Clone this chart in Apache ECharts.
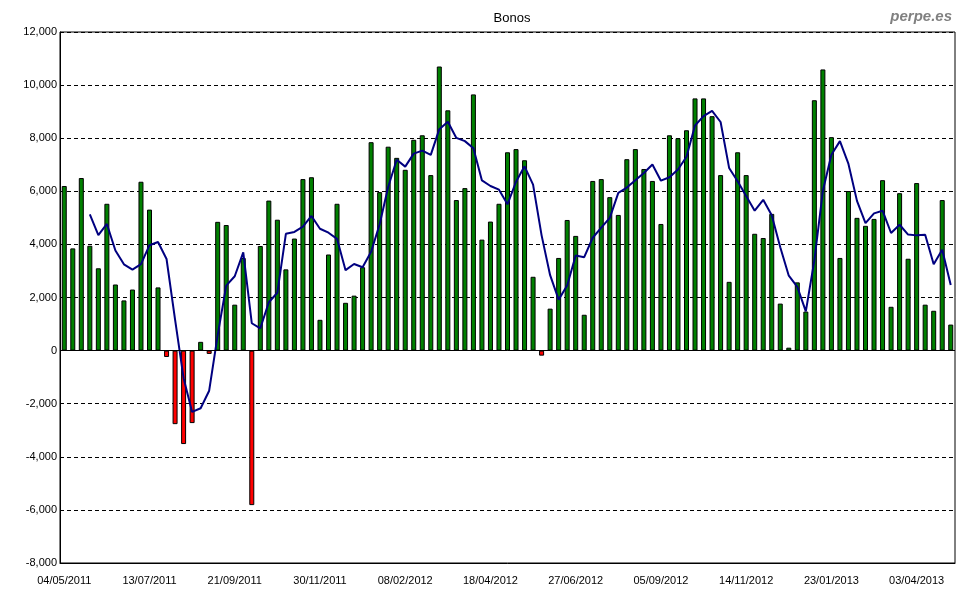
<!DOCTYPE html>
<html>
<head>
<meta charset="utf-8">
<script src="https://cdn.jsdelivr.net/npm/echarts@6/dist/echarts.min.js"></script>
<style>
html,body{margin:0;padding:0;background:#fff;}
#chart{width:980px;height:600px;}
</style>
</head>
<body>
<div id="chart"></div>
<script>
const startDate = '2011-05-04';
const weekCount = 105;

const bonos = [
  6200, 3850, 6500, 3950, 3100, 5530, 2490, 1890, 2300, 6360,
  5310, 2380, -240, -2770, -3520, -2730, 330, -125, 4850, 4730,
  1730, 3490, -5820, 3940, 5650, 4930, 3060, 4220, 6460, 6530,
  1160, 3620, 5530, 1800, 2070, 3140, 7850, 5970, 7680, 7260,
  6810, 7940, 8110, 6610, 10700, 9050, 5670, 6120, 9650, 4180,
  4860, 5530, 7470, 7590, 7170, 2780, -190, 1580, 3490, 4920,
  4320, 1350, 6390, 6460, 5780, 5110, 7210, 7590, 6840, 6390,
  4770, 8110, 8000, 8300, 9500, 9500, 8830, 6610, 2590, 7470,
  6610, 4400, 4240, 5150, 1770, 110, 2570, 1470, 9430, 10590,
  8040, 3490, 6010, 5000, 4700, 4960, 6420, 1650, 5930, 3460,
  6310, 1730, 1500, 5670, 980
];

const media = [
  null, null, null, 5130, 4350, 4770, 3770, 3250, 3050, 3260,
  3970, 4090, 3450, 1170, -1040, -2310, -2170, -1510, 580, 2450,
  2800, 3700, 1030, 840, 1820, 2180, 4400, 4470, 4670, 5070,
  4590, 4440, 4210, 3030, 3260, 3140, 3720, 4760, 6160, 7190,
  6930, 7420, 7530, 7370, 8340, 8620, 8010, 7890, 7620, 6410,
  6200, 6060, 5510, 6360, 6940, 6250, 4340, 2840, 1920, 2450,
  3580, 3520, 4250, 4630, 5000, 5940, 6140, 6420, 6690, 7010,
  6400, 6530, 6820, 7300, 8480, 8830, 9030, 8610, 6880, 6380,
  5820, 5270, 5680, 5100, 3890, 2820, 2400, 1480, 3400, 6020,
  7380, 7890, 7030, 5640, 4800, 5170, 5270, 4430, 4740, 4370,
  4340, 4360, 3250, 3800, 2470
];

const yTicks = { min: -8000, max: 12000, interval: 2000 };

function fmtDate(d){
  const dd = String(d.getUTCDate()).padStart(2,'0');
  const mm = String(d.getUTCMonth()+1).padStart(2,'0');
  return dd + '/' + mm + '/' + d.getUTCFullYear();
}
const categories = [];
{
  const base = new Date(startDate + 'T00:00:00Z');
  for (let i = 0; i < weekCount; i++) {
    categories.push(fmtDate(new Date(base.getTime() + i*7*86400000)));
  }
}

function fmtNum(v){
  const s = Math.abs(v).toString().replace(/\B(?=(\d{3})+(?!\d))/g, ',');
  return (v < 0 ? '-' : '') + s;
}

const chart = echarts.init(document.getElementById('chart'), null, {renderer:'canvas'});
const font = '"Liberation Sans", Arial, sans-serif';
chart.setOption({
  animation: false,
  backgroundColor: '#ffffff',
  title: [
    { text: 'Bonos', left: 507, top: 7, textAlign: 'center',
      textStyle: { fontFamily: font, fontSize: 13, fontWeight: 'normal', color: '#000' } },
    { text: 'perpe.es', right: 23, top: 4,
      textStyle: { fontFamily: font, fontSize: 15, fontWeight: 'bold', fontStyle: 'italic', color: '#808080' } }
  ],
  grid: { left: 60, right: 25, top: 32, bottom: 37, show: true, borderColor: '#000', borderWidth: 1, backgroundColor: 'transparent' },
  xAxis: {
    type: 'category',
    data: categories,
    boundaryGap: true,
    axisLine: { onZero: false, lineStyle: { color: '#000' } },
    axisTick: { show: false },
    axisLabel: { interval: 9, color: '#000', fontFamily: font, fontSize: 11, margin: 12 },
    splitLine: { show: false }
  },
  yAxis: {
    type: 'value',
    min: yTicks.min, max: yTicks.max, interval: yTicks.interval,
    axisLine: { show: true, lineStyle: { color: '#000' } },
    axisTick: { show: false },
    axisLabel: { color: '#000', fontFamily: font, fontSize: 11, margin: 3, formatter: fmtNum },
    splitLine: { show: true, lineStyle: { color: '#000', type: [4, 3], width: 1 } }
  },
  series: [
    {
      type: 'bar',
      data: bonos.map(v => ({ value: v, itemStyle: { color: v < 0 ? '#ff0000' : '#008000' } })),
      barWidth: 5,
      itemStyle: { borderColor: '#000', borderWidth: 1 },
      markLine: {
        silent: true, symbol: 'none', label: { show: false },
        lineStyle: { color: '#000', type: 'solid', width: 1 },
        data: [{ yAxis: 0 }]
      },
      z: 2
    },
    {
      type: 'line',
      data: media,
      showSymbol: false,
      symbol: 'none',
      connectNulls: false,
      lineStyle: { color: '#000080', width: 2 },
      z: 3
    }
  ]
});
</script>
</body>
</html>
